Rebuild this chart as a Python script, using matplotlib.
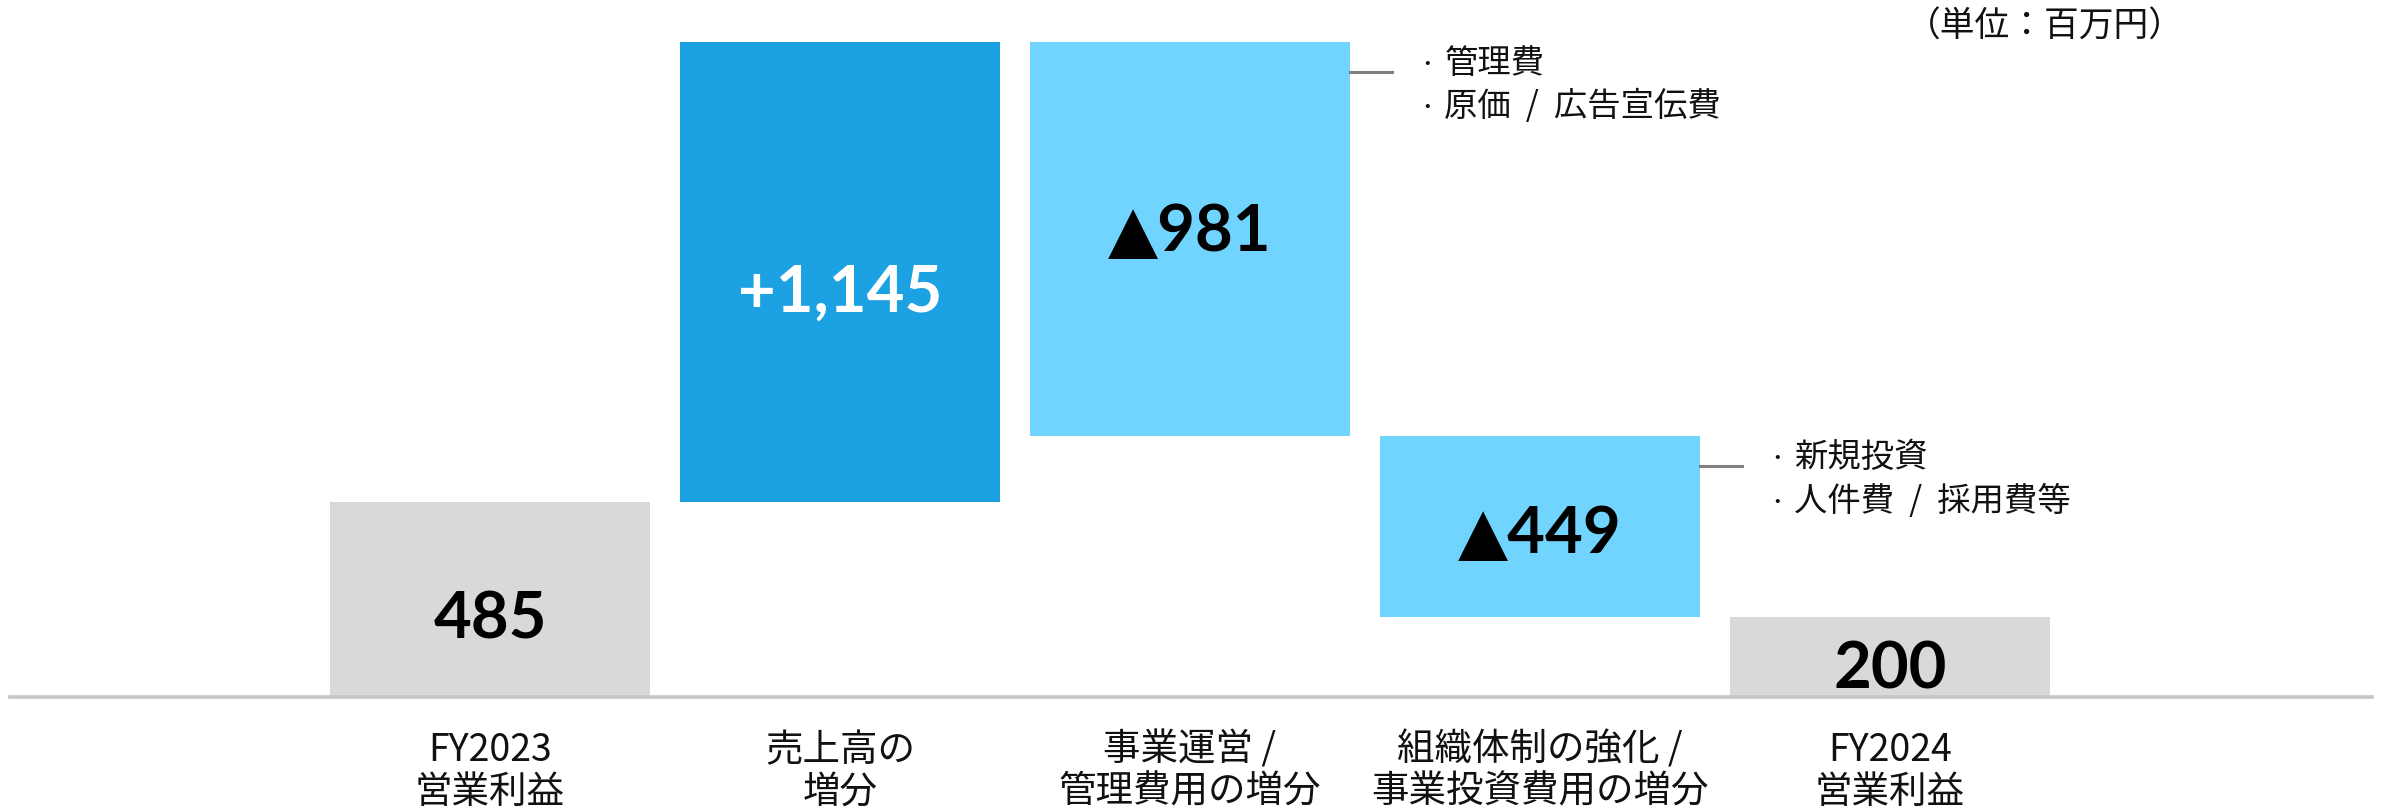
import matplotlib
matplotlib.use('Agg')
import matplotlib.pyplot as plt
from matplotlib.transforms import blended_transform_factory, offset_copy

plt.rcParams['font.family'] = ['Noto Sans CJK JP', 'DejaVu Sans']

# data (百万円)
categories = ["FY2023\n営業利益", "売上高の\n増分", "事業運営 /\n管理費用の増分",
              "組織体制の強化 /\n事業投資費用の増分", "FY2024\n営業利益"]
start_2023 = 485
changes = [1145, -981, -449]
end_2024 = 200
value_labels = ["485", "+1,145", "▲981", "▲449", "200"]
notes = {2: ["管理費", "原価  /  広告宣伝費"], 3: ["新規投資", "人件費  /  採用費等"]}
unit_label = "（単位：百万円）"

GRAY = "#d9d9d9"
BLUE = "#1ca1e3"
LIGHT = "#70d4fe"

# build waterfall pieces
bottoms, heights, colors = [0], [start_2023], [GRAY]
level = start_2023
for c in changes:
    if c >= 0:
        bottoms.append(level); heights.append(c); colors.append(BLUE)
    else:
        bottoms.append(level + c); heights.append(-c); colors.append(LIGHT)
    level += c
bottoms.append(0); heights.append(end_2024); colors.append(GRAY)

fig = plt.figure(figsize=(23.89, 8.12), dpi=100)
ax = fig.add_axes([0, 0, 1, 1])
ax.set_xlim(-1.4, 5.426)
ax.set_ylim(-283.6, 1736)
ax.axis('off')

x = list(range(len(categories)))
ax.bar(x, heights, bottom=bottoms, width=0.914, color=colors, zorder=2)

# baseline
ax.axhline(0, xmin=0.004, xmax=0.993, color="#c6c6c6", lw=2.6, zorder=3)

# value labels (small vertical nudges, in points)
nudge = [-14, -15, 5, -5, -9]
for i, lab in enumerate(value_labels):
    ymid = bottoms[i] + heights[i] / 2
    col = "white" if colors[i] == BLUE else "black"
    tr_i = offset_copy(ax.transData, fig=fig, y=nudge[i], units='points')
    ax.text(i, ymid, lab, ha='center', va='center', fontsize=47, fontweight='bold',
            color=col, family=['Lato', 'DejaVu Sans'], zorder=4, transform=tr_i)

# category labels
tr = blended_transform_factory(ax.transData, ax.transAxes)
for i, lab in enumerate(categories):
    ax.text(i, 0.05, lab, transform=tr, ha='center', va='center', fontsize=27,
            linespacing=1.1, color="#111111")

# side notes
for i, lines in notes.items():
    top = bottoms[i] + heights[i]
    right = i + 0.457
    ax.plot([right, right + 0.12], [top - 75, top - 75], color="#7f7f7f", lw=2.2, zorder=3)
    for k, t in enumerate(lines):
        yy = top - 52 - k * 108
        ax.text(right + 0.22, yy, "•", ha='center', va='center', fontsize=12, color="#111111")
        ax.text(right + 0.27, yy, t, ha='left', va='center', fontsize=24, color="#111111")

ax.text(0.914, 0.966, unit_label, transform=ax.transAxes, ha='right', va='center',
        fontsize=25, color="#111111")

fig.savefig("out.png", dpi=100)
